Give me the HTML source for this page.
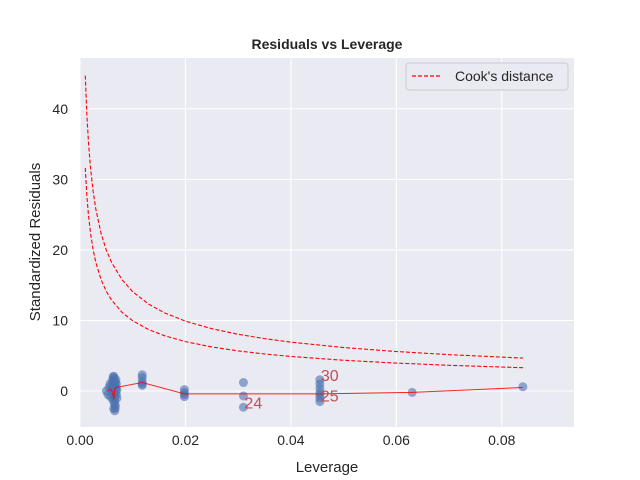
<!DOCTYPE html>
<html><head><meta charset="utf-8"><style>
body{margin:0;background:#fff;}
svg{display:block;font-family:"Liberation Sans",Arial,sans-serif;}
</style></head><body>
<svg id="chart" width="640" height="480">
<rect x="80" y="58" width="494" height="369" fill="#eaeaf2"/>
<g id="grid"></g><g id="marks"></g><g id="axes"></g>
<text x="327" y="49" text-anchor="middle" font-size="14" font-weight="bold" fill="#262626">Residuals vs Leverage</text>
<text x="327" y="472" text-anchor="middle" font-size="15" fill="#262626">Leverage</text>
<text transform="translate(40,242) rotate(-90)" text-anchor="middle" font-size="15" fill="#262626">Standardized Residuals</text>
<g>
<rect x="406" y="63" width="162" height="27" rx="3" fill="#eaeaf2" stroke="#ccc"/>
<line x1="412" y1="76" x2="442" y2="76" stroke="red" stroke-width="1.2" stroke-dasharray="4,2"/>
<text x="455" y="81" font-size="14" fill="#262626">Cook's distance</text>
</g>
</svg>
<script>
const xTicks=[0,0.02,0.04,0.06,0.08];
const xTickLabels=["0.00","0.02","0.04","0.06","0.08"];
const yTicks=[0,10,20,30,40];
const yTickLabels=["0","10","20","30","40"];
const leverage=[0.0050,0.0053,0.0055,0.0057,0.0058,0.0060,0.0061,0.0062,0.0063,0.0064,0.0065,0.0065,0.0066,0.0066,0.0067,0.0067,0.0068,0.0069,0.0070,0.0064,0.0066,0.0068,0.0060,0.0062,0.0064,0.0066,0.0068,0.0070,0.0065,0.0063,0.0067,0.0069,0.0118,0.0118,0.0118,0.0118,0.0118,0.0198,0.0198,0.0198,0.0198,0.031,0.031,0.031,0.0455,0.0455,0.0455,0.0455,0.0455,0.0455,0.0455,0.063,0.084];
const residuals=[0.0,-0.5,0.5,1.0,-0.8,0.3,1.5,-1.2,2.0,-2.5,1.8,-1.8,0.8,-0.4,1.2,-2.0,0.5,1.0,-1.0,2.1,-2.8,0.0,0.8,-0.3,1.3,-1.4,1.6,0.2,-0.9,0.6,-2.4,-0.5,2.3,1.9,1.3,1.0,0.8,0.2,-0.2,-0.5,-0.8,1.2,-0.7,-2.3,1.6,1.0,0.4,-0.2,-0.6,-1.0,-1.5,-0.2,0.6];
const smoothX=[0.0053,0.0058,0.0062,0.0064,0.0066,0.0068,0.0118,0.0198,0.031,0.0455,0.063,0.084];
const smoothY=[0.0,0.3,-0.2,-1.2,0.3,0.5,1.2,-0.4,-0.4,-0.4,-0.2,0.5];
const cookH=[0.001,0.0013,0.0016,0.002,0.0025,0.003,0.004,0.005,0.006,0.008,0.01,0.013,0.016,0.02,0.025,0.03,0.035,0.04,0.05,0.06,0.07,0.084];
const cookLevels=[0.5,1];
const nParams=2;
const labelNames=["30","25","24"];
const labelX=[0.0455,0.0455,0.031];
const labelY=[2.1,-0.8,-1.8];

const NS="http://www.w3.org/2000/svg";
const L=80,R=574,T=58,B=427,xMin=0,xMax=0.0937,yMin=-5.1,yMax=47.2;
const sx=v=>L+(v-xMin)/(xMax-xMin)*(R-L);
const sy=v=>B-(v-yMin)/(yMax-yMin)*(B-T);
function mk(tag,attrs,parent){const e=document.createElementNS(NS,tag);for(const k in attrs)e.setAttribute(k,attrs[k]);document.getElementById(parent).appendChild(e);return e;}
xTicks.forEach((t,i)=>{
 const g=mk('line',{x1:sx(t),x2:sx(t),y1:T,y2:B,stroke:'#fff','stroke-width':1},'grid');
 
 
 const tx=mk('text',{x:sx(t),y:B+18,'text-anchor':'middle','font-size':14,fill:'#262626'},'axes');
 tx.textContent=xTickLabels[i];
 
 
});
yTicks.forEach((t,i)=>{
 const g=mk('line',{x1:L,x2:R,y1:sy(t),y2:sy(t),stroke:'#fff','stroke-width':1},'grid');
 
 
 const tx=mk('text',{x:L-12,y:sy(t)+5,'text-anchor':'end','font-size':14,fill:'#262626'},'axes');
 tx.textContent=yTickLabels[i];
 
 
});
leverage.forEach((h,i)=>{
 const c=mk('circle',{cx:sx(h),cy:sy(residuals[i]),r:4.5,fill:'#4c72b0','fill-opacity':0.6},'marks');
 
 
});
cookLevels.forEach(c=>{
 const d=cookH.map((h,i)=>(i?'L':'M')+sx(h)+','+sy(Math.sqrt(c*nParams*(1-h)/h))).join(' ');
 const p=mk('path',{d:d,fill:'none',stroke:'red','stroke-width':1.1,'stroke-dasharray':'4,2'},'marks');
 
 
});
const sd=smoothX.map((x,i)=>(i?'L':'M')+sx(x)+','+sy(smoothY[i])).join(' ');
const sp=mk('path',{d:sd,fill:'none',stroke:'red','stroke-width':1,'stroke-opacity':0.85},'marks');


labelNames.forEach((n,i)=>{
 const t=mk('text',{x:sx(labelX[i])+1,y:sy(labelY[i])+5,'font-size':16,fill:'#c44e52'},'marks');
 t.textContent=n;
 
 
});
</script>
</body></html>
